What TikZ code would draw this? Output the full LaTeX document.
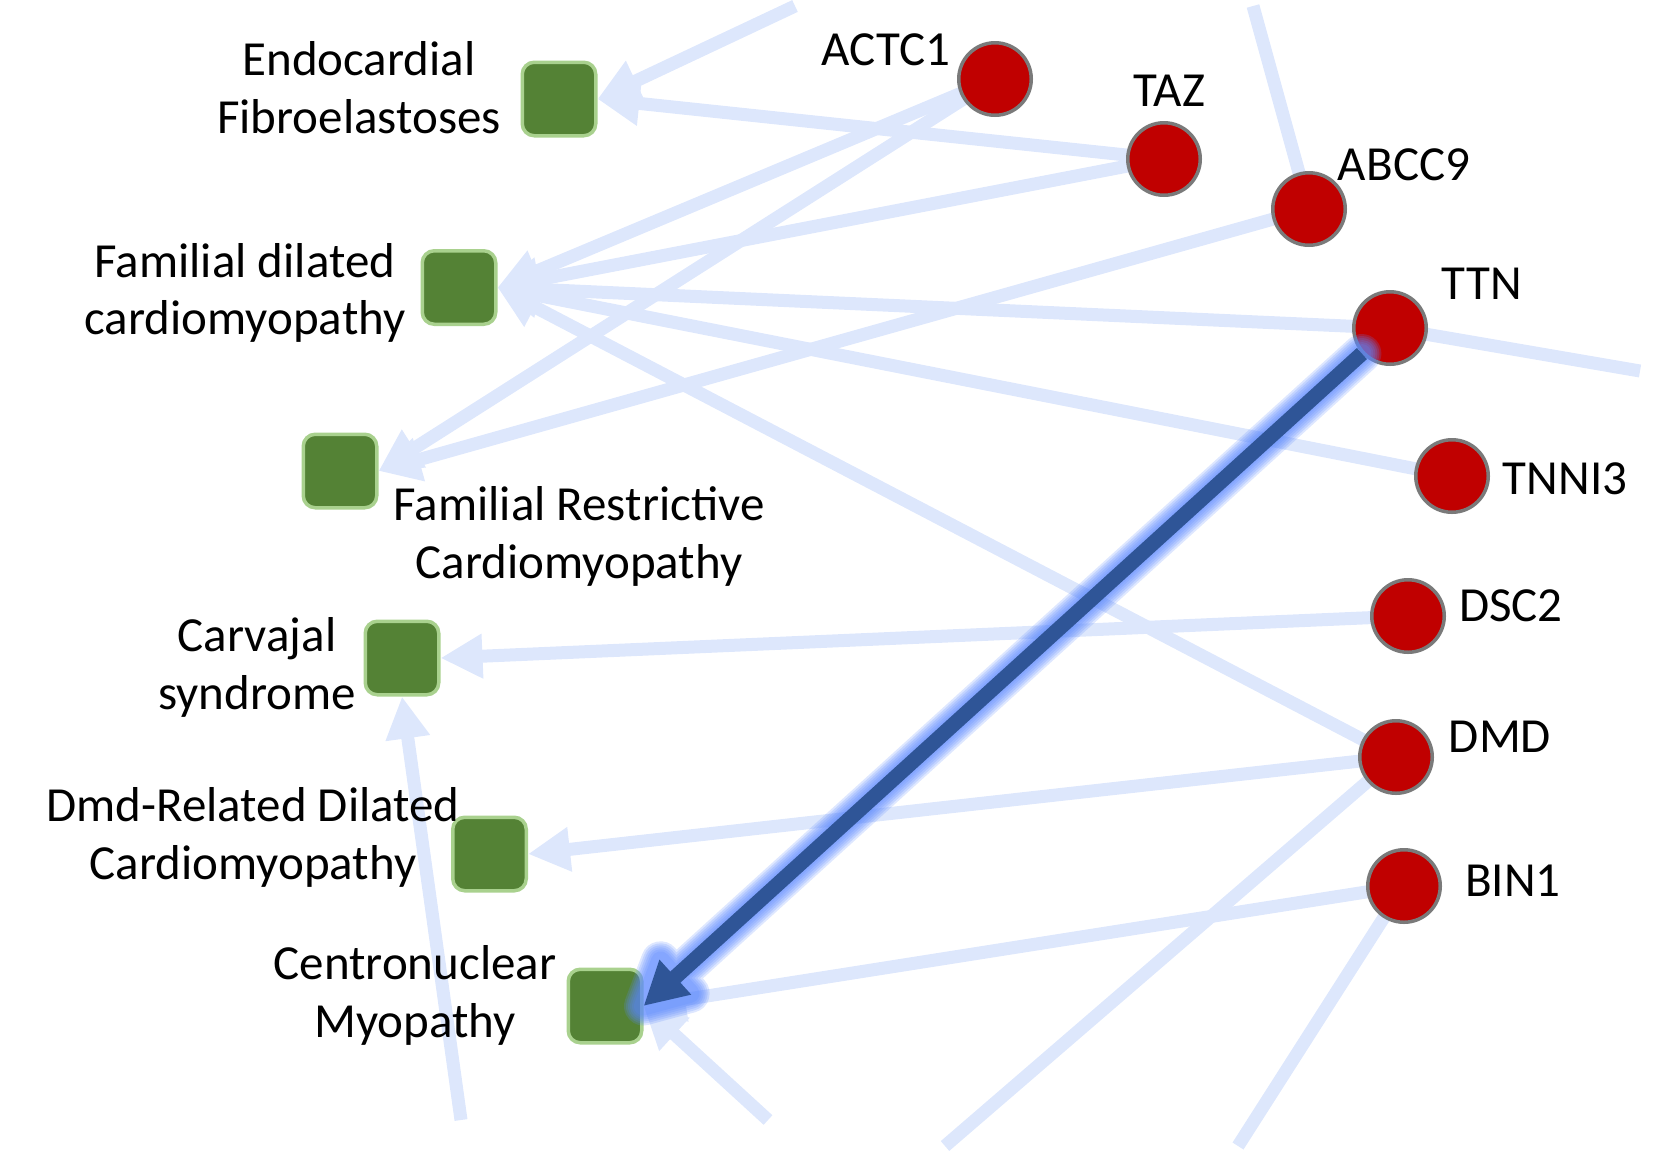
\documentclass[tikz,border=0pt]{standalone}
\usepackage{fontspec}
\setmainfont{Carlito}
\usetikzlibrary{arrows.meta,calc,backgrounds}
\definecolor{edgeblue}{RGB}{221,231,252}
\definecolor{diseasefill}{RGB}{84,130,53}
\definecolor{diseaseline}{RGB}{169,209,142}
\definecolor{genefill}{RGB}{192,0,0}
\definecolor{geneline}{RGB}{122,122,122}
\definecolor{hilite}{RGB}{47,85,151}
\definecolor{glowblue}{RGB}{90,135,255}
\begin{document}
\begin{tikzpicture}[x=0.5pt,y=-0.5pt,
  disease/.style={draw=diseaseline, fill=diseasefill, line width=1.75pt,
    rounded corners=6pt, minimum size=36.75pt, inner sep=0pt},
  gene/.style={circle, draw=geneline, fill=genefill, line width=1.75pt,
    minimum size=36.25pt, inner sep=0pt},
  lbl/.style={font=\fontsize{24.5}{28.75}\selectfont, align=center, inner sep=0pt},
  glbl/.style={font=\fontsize{24.5}{28.75}\selectfont, inner sep=0pt, anchor=base},
  assoc/.style={edgeblue, line width=6.5pt, -{Triangle[length=21pt,width=21pt]}},
  link/.style={edgeblue, line width=6.5pt},
  glow/.style={glowblue, line join=round, line cap=round, opacity=0.2},
  focus/.style={hilite, line width=7.5pt, -{Triangle[length=21.5pt,width=22pt]}}
]
\useasboundingbox (0,0) rectangle (1669,1152);

% disease nodes
\node[disease] (endo)   at (559,99)    {};
\node[disease] (fdc)    at (459,287.5) {};
\node[disease] (frc)    at (340,471)   {};
\node[disease] (carv)   at (402,658)   {};
\node[disease] (dmdrel) at (489.5,854) {};
\node[disease] (cn)     at (605,1006)  {};

% gene nodes
\node[gene] (actc1) at (995,79)   {};
\node[gene] (taz)   at (1164,159) {};
\node[gene] (abcc9) at (1309,209) {};
\node[gene] (ttn)   at (1390,328) {};
\node[gene] (tnni3) at (1452,476) {};
\node[gene] (dsc2)  at (1408,616) {};
\node[gene] (dmd)   at (1396,757) {};
\node[gene] (bin1)  at (1404,886) {};

% loose ends of edges leaving the view
\coordinate (topA)   at (795,6);
\coordinate (topB)   at (1253,6);
\coordinate (rightA) at (1640,371);
\coordinate (botA)   at (461,1120);
\coordinate (botB)   at (768,1120);
\coordinate (botC)   at (945,1146);
\coordinate (botD)   at (1238,1146);

% light association edges, behind the nodes
\begin{pgfonlayer}{background}
  \draw[assoc] (topA) -- (endo.east);
  \draw[assoc] (taz.center) -- (endo.east);
  \draw[assoc] (actc1.center) -- (fdc.east);
  \draw[assoc] (taz.center) -- (fdc.east);
  \draw[assoc] (ttn.center) -- (fdc.east);
  \draw[assoc] (tnni3.center) -- (fdc.east);
  \draw[assoc] (dmd.center) -- (fdc.east);
  \draw[assoc] (actc1.center) -- (frc.east);
  \draw[assoc] (abcc9.center) -- (frc.east);
  \draw[link]  (abcc9.center) -- (topB);
  \draw[link]  (ttn.center) -- (rightA);
  \draw[assoc] (dsc2.center) -- (carv.east);
  \draw[assoc] (botA) -- (carv.south);
  \draw[assoc] (dmd.center) -- (dmdrel.east);
  \draw[link]  (dmd.center) -- (botC);
  \draw[assoc] (bin1.center) -- (cn.east);
  \draw[link]  (bin1.center) -- (botD);
  \draw[assoc] (botB) -- (cn.east);
\end{pgfonlayer}

% highlighted edge TTN -> Centronuclear Myopathy, with its glow
\coordinate (tipT) at (cn.east);
\coordinate (tipB) at ($(tipT)!21.5pt!(ttn)$);
\coordinate (tipL) at ($(tipB)!11pt!90:(ttn)$);
\coordinate (tipR) at ($(tipB)!11pt!-90:(ttn)$);
\foreach \w in {19.5,17.5,15.5,13.5,11.5,9.5}
  \draw[glow, line width=\w pt] (ttn) -- (tipB) (tipL) -- (tipT) -- (tipR) -- cycle;
\draw[focus] (ttn) -- (cn.east);

% disease labels
\node[lbl] (l-endo)   at (359,92.9)  {Endocardial\strut\\Fibroelastoses\strut};
\node[lbl] (l-fdc)    at (245,294.5) {Familial dilated\strut\\cardiomyopathy\strut};
\node[lbl] (l-frc)    at (579,538)   {Familial Restrictive\strut\\Cardiomyopathy\strut};
\node[lbl] (l-carv)   at (257,669)   {Carvajal\strut\\syndrome\strut};
\node[lbl] (l-dmdrel) at (253,839)   {Dmd-Related Dilated\strut\\Cardiomyopathy\strut};
\node[lbl] (l-cn)     at (415,996.75){Centronuclear\strut\\Myopathy\strut};

% gene labels
\node[glbl] (l-actc1) at (886,65.4)  {ACTC1};
\node[glbl] (l-taz)   at (1169.6,106){TAZ};
\node[glbl] (l-abcc9) at (1404,180)  {ABCC9};
\node[glbl] (l-ttn)   at (1482,299)  {TTN};
\node[glbl] (l-tnni3) at (1565,494.6){TNNI3};
\node[glbl] (l-dsc2)  at (1511,621)  {DSC2};
\node[glbl] (l-dmd)   at (1500,752.5){DMD};
\node[glbl] (l-bin1)  at (1513,896)  {BIN1};
\end{tikzpicture}
\end{document}
